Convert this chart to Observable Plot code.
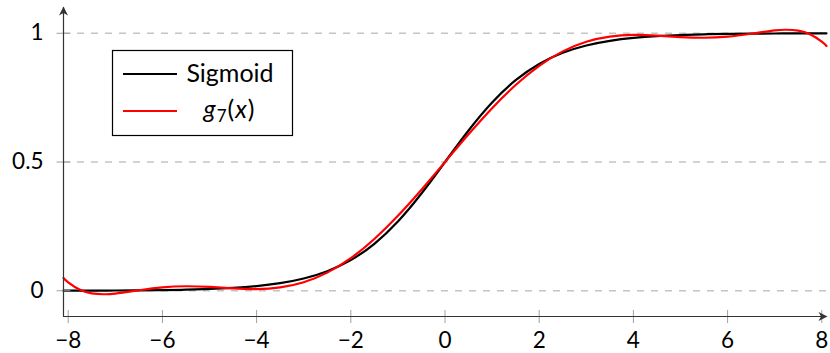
<!DOCTYPE html>
<html>
<head>
<meta charset="utf-8">
<script src="https://cdn.jsdelivr.net/npm/d3@7"></script>
<script src="https://cdn.jsdelivr.net/npm/@observablehq/plot@0.6"></script>
<style>
  html, body { margin: 0; padding: 0; background: #fff; }
  #chart { position: relative; width: 830px; height: 353px; }
</style>
</head>
<body>
<div id="chart"></div>
<script>
// x sample positions
const xs = [-8.1, -8, -7.75, -7.5, -7.25, -7, -6.5, -6, -5.5, -5, -4.5, -4, -3.5, -3, -2.5, -2, -1.5, -1, -0.5,
  0, 0.5, 1, 1.5, 2, 2.5, 3, 3.5, 4, 4.5, 5, 5.5, 6, 6.5, 7, 7.25, 7.5, 7.75, 8, 8.1];
// Sigmoid values read at xs
const sigmoidVals = [0.0003, 0.0003, 0.0004, 0.0006, 0.0007, 0.0009, 0.0015, 0.0025, 0.0041, 0.0067, 0.0110, 0.0180, 0.0293, 0.0474, 0.0759, 0.1192, 0.1824, 0.2689, 0.3775,
  0.5, 0.6225, 0.7311, 0.8176, 0.8808, 0.9241, 0.9526, 0.9707, 0.9820, 0.9890, 0.9933, 0.9959, 0.9975, 0.9985, 0.9991, 0.9993, 0.9994, 0.9996, 0.9997, 0.9997];
// g7(x) values read at xs
const g7Vals = [0.0496, 0.0325, 0.0036, -0.0100, -0.0136, -0.0109, 0.0019, 0.0133, 0.0175, 0.0148, 0.0092, 0.0066, 0.0128, 0.0329, 0.0704, 0.1266, 0.2011, 0.2912, 0.3926,
  0.5, 0.6074, 0.7088, 0.7989, 0.8734, 0.9296, 0.9671, 0.9872, 0.9934, 0.9908, 0.9852, 0.9825, 0.9867, 0.9981, 1.0109, 1.0136, 1.0100, 0.9964, 0.9675, 0.9504];

const xTicks = [-8, -6, -4, -2, 0, 2, 4, 6, 8];
const yTicks = [0, 0.5, 1];
const xDomain = [-8.1, 8.1];
const yDomain = [-0.1, 1.1];
const seriesNames = ["Sigmoid", "g7(x)"];
const seriesColors = ["#000000", "#ff0000"];

const sigData = xs.map((x, i) => ({x, y: sigmoidVals[i]}));
const gData = xs.map((x, i) => ({x, y: g7Vals[i]}));

const vTick = {draw(ctx) { ctx.moveTo(0, -6.5); ctx.lineTo(0, 6.5); }};
const hTick = {draw(ctx) { ctx.moveTo(-7, 0); ctx.lineTo(7, 0); }};
const stealth = {draw(ctx) { ctx.moveTo(1, 0); ctx.lineTo(-8, -4.5); ctx.lineTo(-5.5, 0); ctx.lineTo(-8, 4.5); ctx.closePath(); }};

const axisColor = "#333";

const svg = Plot.plot({
  width: 830,
  height: 353,
  marginLeft: 63,
  marginRight: 4,
  marginTop: 7,
  marginBottom: 37,
  style: {fontFamily: "Lato, 'Open Sans', sans-serif", fontSize: "22.5px", background: "#fff", color: "#000"},
  x: {domain: xDomain},
  y: {domain: yDomain},
  marks: [
    Plot.ruleY(yTicks, {stroke: "#c4c4c4", strokeWidth: 1.3, strokeDasharray: "7,7"}),
    Plot.line(sigData, {x: "x", y: "y", stroke: seriesColors[0], strokeWidth: 2.2, curve: "natural"}),
    Plot.line(gData, {x: "x", y: "y", stroke: seriesColors[1], strokeWidth: 2.2, curve: "natural"}),
    Plot.dot(xTicks, {x: d => d, y: yDomain[0], symbol: vTick, stroke: "#a0a0a0", strokeWidth: 1, fill: "none"}),
    Plot.dot(yTicks, {x: xDomain[0], y: d => d, symbol: hTick, stroke: "#a0a0a0", strokeWidth: 1, fill: "none"}),
    Plot.ruleY([yDomain[0]], {stroke: axisColor, strokeWidth: 1.2}),
    Plot.ruleX([xDomain[0]], {stroke: axisColor, strokeWidth: 1.2}),
    Plot.dot([xDomain[1]], {x: d => d, y: yDomain[0], symbol: stealth, fill: axisColor, stroke: "none"}),
    Plot.dot([yDomain[1]], {x: xDomain[0], y: d => d, symbol: stealth, rotate: -90, fill: axisColor, stroke: "none"}),
    Plot.axisX(xTicks, {tickSize: 0, tickPadding: 16, tickFormat: d3.format("d"), label: null}),
    Plot.axisY(yTicks, {tickSize: 0, tickPadding: 20, tickFormat: d3.format("~g"), label: null})
  ]
});

// Legend box
const s = d3.select(svg);
const lg = s.append("g").attr("font-family", "Lato, 'Open Sans', sans-serif").attr("font-size", 25);
lg.append("rect").attr("x", 112.5).attr("y", 50.5).attr("width", 180).attr("height", 85)
  .attr("fill", "#fff").attr("stroke", "#000").attr("stroke-width", 1.2);
lg.append("line").attr("x1", 123).attr("x2", 177).attr("y1", 74).attr("y2", 74)
  .attr("stroke", seriesColors[0]).attr("stroke-width", 2.2);
lg.append("line").attr("x1", 123).attr("x2", 177).attr("y1", 111).attr("y2", 111)
  .attr("stroke", seriesColors[1]).attr("stroke-width", 2.2);
lg.append("text").attr("x", 230).attr("y", 82).attr("text-anchor", "middle").attr("fill", "#000").text(seriesNames[0]);
const t2 = lg.append("text").attr("x", 229).attr("y", 118).attr("text-anchor", "middle").attr("fill", "#000");
t2.append("tspan").attr("font-style", "italic").text("g");
t2.append("tspan").attr("font-size", 17).attr("dy", 4).attr("dx", 1).text("7");
t2.append("tspan").attr("dy", -4).attr("dx", 1).text("(");
t2.append("tspan").attr("font-style", "italic").attr("dx", 1).text("x");
t2.append("tspan").attr("dx", 1).text(")");

document.getElementById("chart").appendChild(svg);
</script>
</body>
</html>
